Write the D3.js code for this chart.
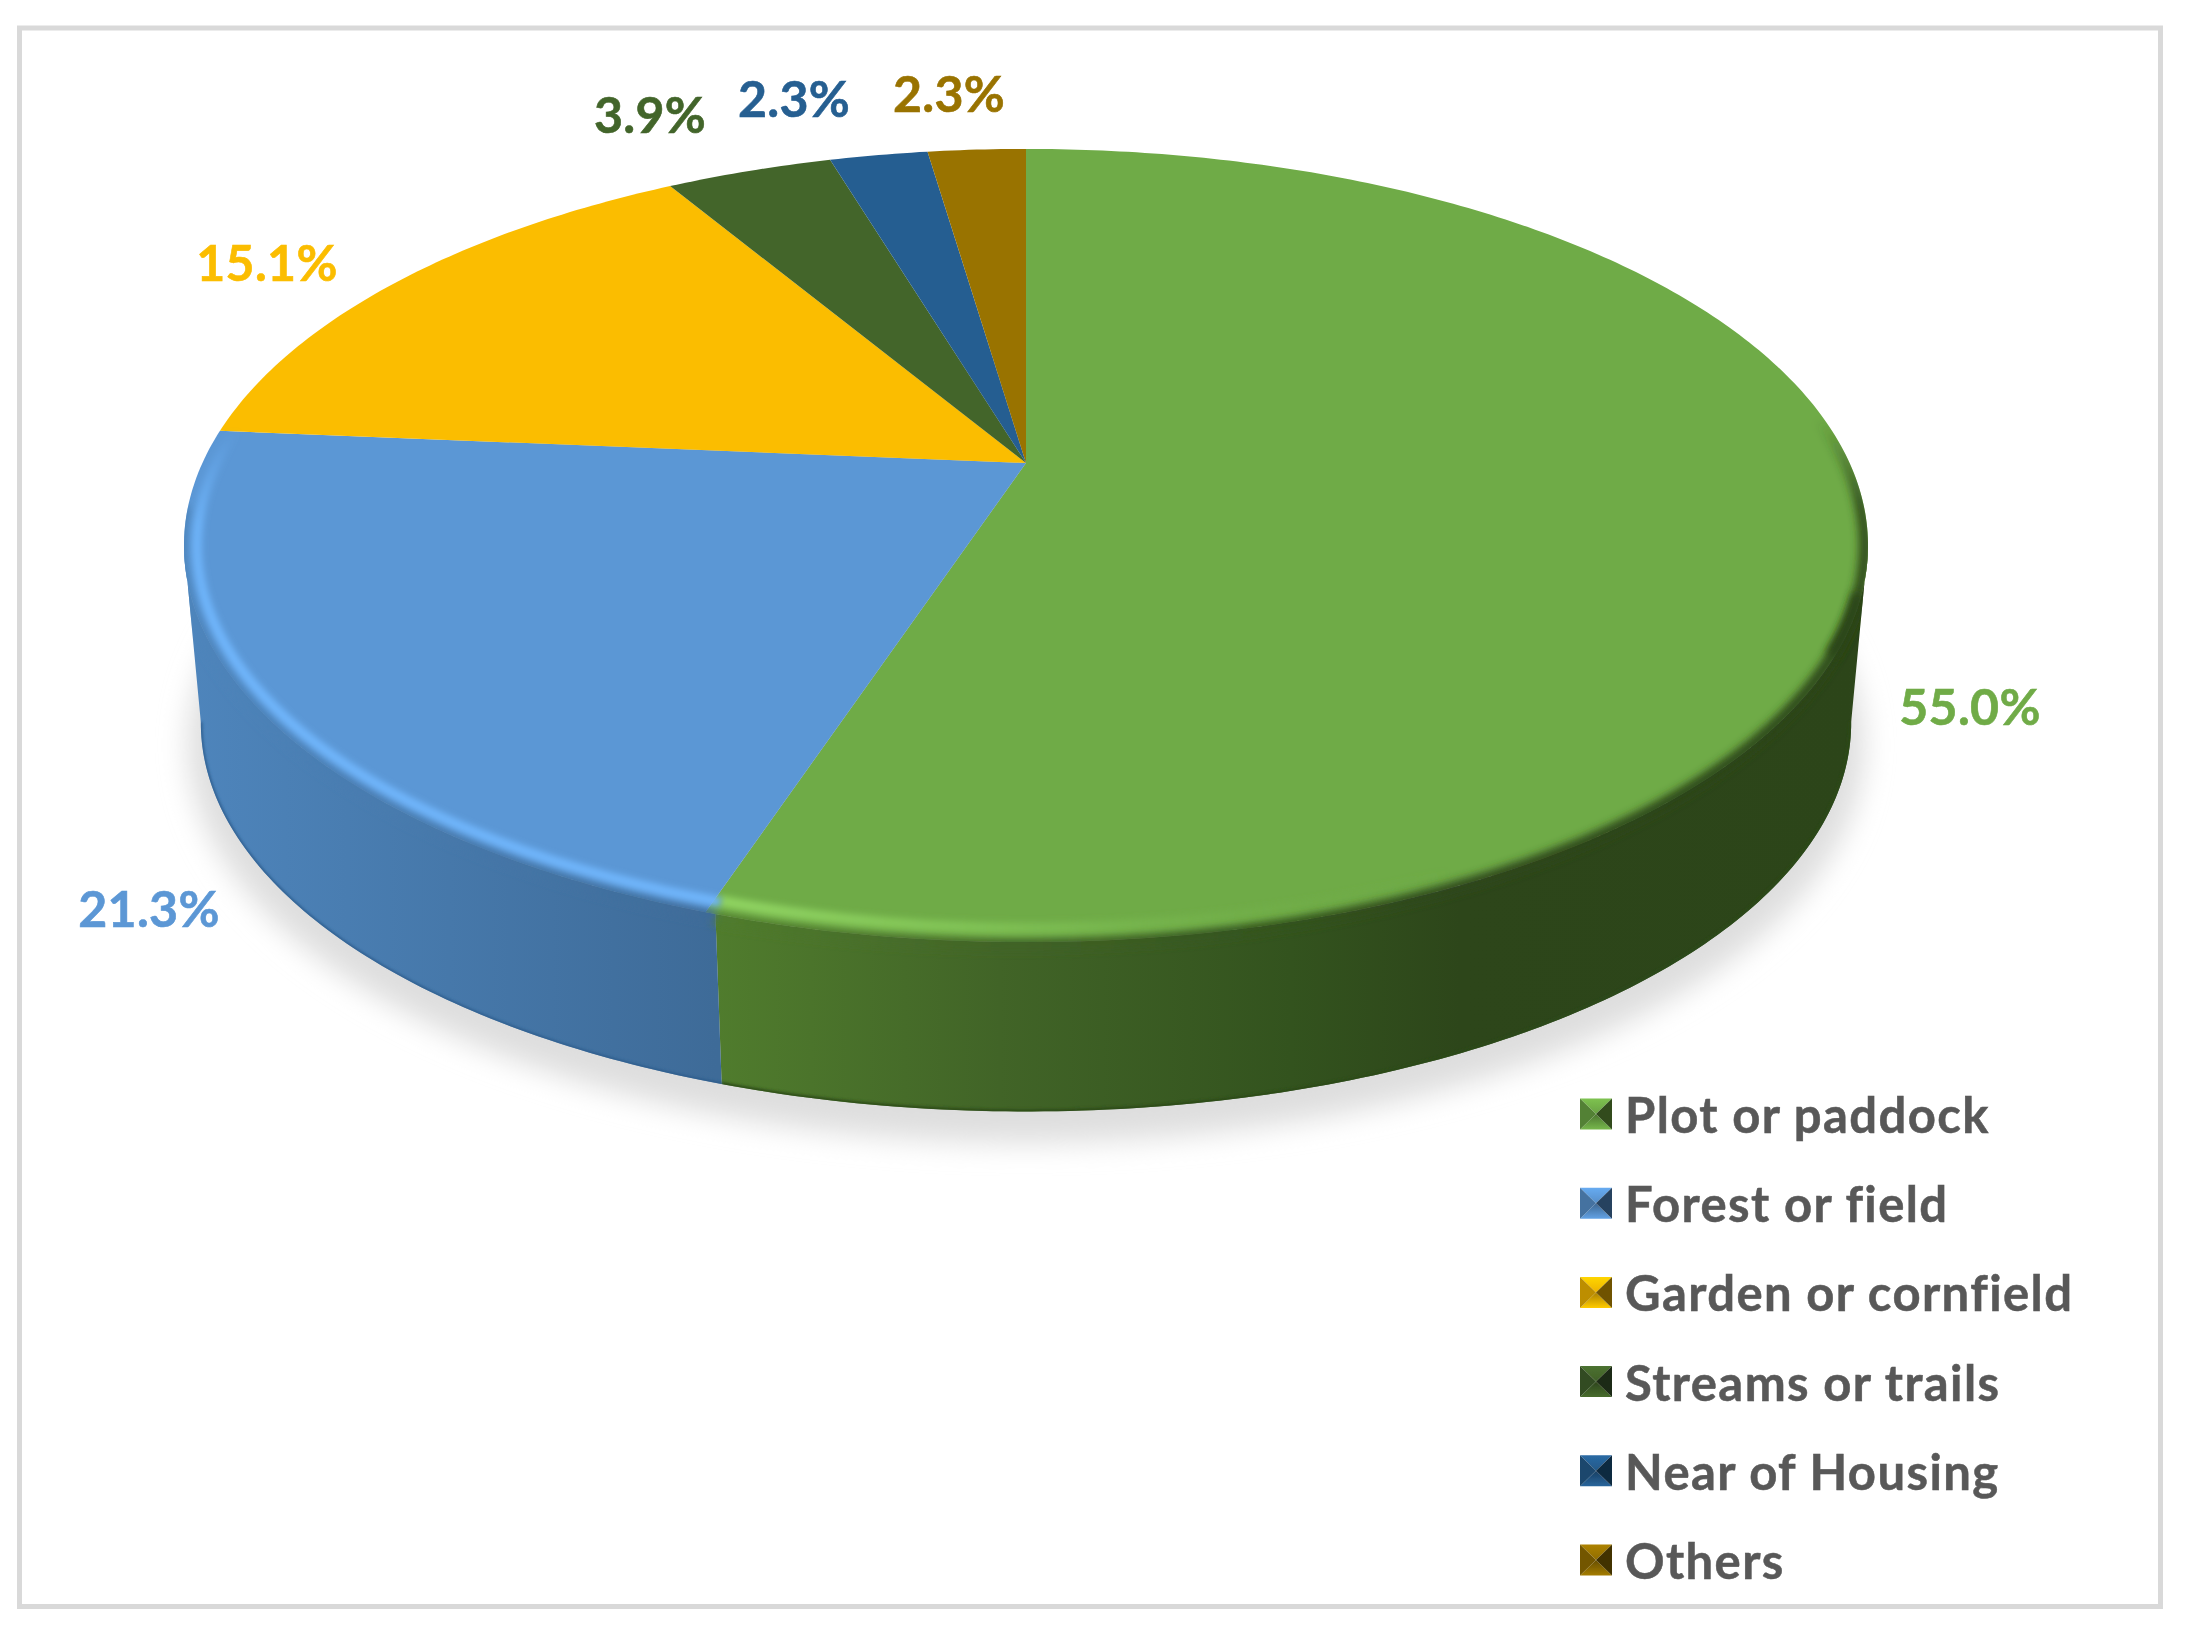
<!DOCTYPE html>
<html>
<head>
<meta charset="utf-8">
<style>
html, body { margin: 0; padding: 0; background: #fff; }
text { font-family: Lato, "Open Sans", sans-serif; font-weight: 700; }
</style>
<script src="https://cdn.jsdelivr.net/npm/d3@7"></script>
</head>
<body>
<script>
var categories = ['Plot or paddock', 'Forest or field', 'Garden or cornfield', 'Streams or trails', 'Near of Housing', 'Others'];
var shares = [55.0, 21.3, 15.1, 3.9, 2.3, 2.3];
var colors = ['#6fab47', '#5b97d5', '#fbbd00', '#43652a', '#255e91', '#997300'];

// where the percent labels sit, centre of text
var labelX = [1970, 149, 267, 650, 794, 949];
var labelY = [706, 908, 262, 114, 98, 93];

var W = 2188, H = 1637;
var cx = 1026, apexY = 463;      // pie centre as seen in perspective
var k = 0.208, a = 379.4, b = 823.6;
var ellipseY = 545, ellipseRx = 842, ellipseRy = 396;
var bottomScale = 0.98, bottomY = 642;
var sideFrom = 101.9 * Math.PI / 180, sideTo = 258.1 * Math.PI / 180;
var seamShift = 0.0105;          // wall seam sits a little right of the slice edge

var svg = d3.select('body').append('svg').attr('width', W).attr('height', H).style('display', 'block');
var defs = svg.append('defs');

// circle -> tilted disc, t is clockwise from the top
function topPt(t, inset) {
    var u = Math.sin(t), v = -Math.cos(t), d = 1 - k * v;
    var x = cx + b * u / d, y = apexY + a * v / d;
    if (inset) {
        x = cx + (x - cx) * (1 - inset / ellipseRx);
        y = ellipseY + (y - ellipseY) * (1 - inset / ellipseRy);
    }
    return [x, y];
}
function bottomPt(t) {
    var u = Math.sin(t), v = -Math.cos(t), d = 1 - k * v;
    return [cx + bottomScale * b * u / d, bottomY + bottomScale * a * v / d];
}
function angles(t0, t1) {
    var n = Math.max(2, Math.ceil(Math.abs(t1 - t0) * 80));
    return d3.range(n + 1).map(function (i) { return t0 + (t1 - t0) * i / n; });
}
var line = d3.line();

var slices = d3.pie().sort(null).value(function (d) { return d; })(shares);
var color = d3.scaleOrdinal().domain(categories).range(colors);
var seam = slices[0].endAngle - seamShift;

function addBlur(id, s) {
    defs.append('filter').attr('id', id).attr('filterUnits', 'userSpaceOnUse')
        .attr('x', 0).attr('y', 0).attr('width', W).attr('height', H)
        .append('feGaussianBlur').attr('stdDeviation', s);
}
addBlur('shadowBlur', 14);
addBlur('rimBlur', 4.5);
addBlur('softBlur', 3);
addBlur('edgeBlur', 1.5);
addBlur('textBlur', 0.6);

function gradient(id, x1, y1, x2, y2, stops) {
    var g = defs.append('linearGradient').attr('id', id).attr('gradientUnits', 'userSpaceOnUse')
        .attr('x1', x1).attr('y1', y1).attr('x2', x2).attr('y2', y2);
    stops.forEach(function (s) {
        g.append('stop').attr('offset', s[0]).attr('stop-color', s[1]).attr('stop-opacity', s[2] === undefined ? 1 : s[2]);
    });
}
gradient('side0', 716, 0, 1867, 0, [[0, '#507c2d'], [0.247, '#416427'], [0.499, '#33531e'], [0.647, '#2d461a'], [1, '#2c4519']]);
gradient('side1', 183, 0, 716, 0, [[0, '#4e85bc'], [1, '#3e6b98']]);
gradient('rimGreen', 716, 0, 1450, 0, [[0, '#90d462'], [0.35, '#80c255'], [0.7, '#74b24b', 0.6], [1, '#6fab47', 0]]);
gradient('rimBlue', 0, 430, 0, 620, [[0, '#6fb5fb', 0], [0.5, '#6fb5fb', 0.9], [1, '#6fb5fb']]);
gradient('rimDark', 0, 420, 0, 640, [[0, '#2c4519', 0], [0.4, '#2c4519', 0.9], [1, '#2c4519', 1]]);

// shadow under the disc
svg.append('ellipse').attr('cx', cx).attr('cy', 745).attr('rx', 838).attr('ry', 398)
    .attr('fill', '#dedede').attr('filter', 'url(#shadowBlur)');

// outer shape, rim effects stay inside it
var outline = angles(0, 2 * Math.PI).map(function (t) { return topPt(t); });
var lowerEdge = angles(sideTo, sideFrom).map(bottomPt);
var clip = defs.append('clipPath').attr('id', 'disc');
clip.append('path').attr('d', line(outline) + 'Z');
clip.append('path').attr('d', line(angles(sideFrom, sideTo).map(function (t) { return topPt(t); }).concat(lowerEdge)) + 'Z');

// side walls
svg.append('g').selectAll('path')
    .data(slices.filter(function (d) { return d.startAngle < sideTo && d.endAngle > sideFrom; }))
    .join('path')
    .attr('fill', function (d, i) { return 'url(#side' + i + ')'; })
    .attr('d', function (d, i) {
        var t0 = i === 0 ? sideFrom : seam;
        var t1 = i === 0 ? seam : sideTo;
        return line(angles(t0, t1).map(function (t) { return topPt(t); }).concat(angles(t1, t0).map(bottomPt))) + 'Z';
    });

// top faces
svg.append('g').selectAll('path').data(slices).join('path')
    .attr('fill', function (d, i) { return color(categories[i]); })
    .attr('d', function (d) {
        var pts = [[cx, apexY]].concat(angles(d.startAngle, d.endAngle).map(function (t) { return topPt(t); }));
        return line(pts) + 'Z';
    });

var rim = svg.append('g').attr('clip-path', 'url(#disc)');

// dark lower lip of the wall
rim.append('path').attr('d', line(angles(sideFrom, seam).map(bottomPt))).attr('fill', 'none')
    .attr('stroke', '#2a4a18').attr('stroke-width', 4).attr('filter', 'url(#edgeBlur)');
rim.append('path').attr('d', line(angles(seam, sideTo).map(bottomPt))).attr('fill', 'none')
    .attr('stroke', '#2a5a8a').attr('stroke-width', 3).attr('filter', 'url(#edgeBlur)');

// top face melts into the wall: right side, then front
rim.append('path').attr('d', line(angles(1.05, 2.05).map(function (t) { return topPt(t, 3); }))).attr('fill', 'none')
    .attr('stroke', 'url(#rimDark)').attr('stroke-width', 12).attr('filter', 'url(#rimBlur)');
rim.append('path').attr('d', line(angles(1.9, seam).map(function (t) { return topPt(t, 3 - 7 * (t - 1.9) / (seam - 1.9)); }))).attr('fill', 'none')
    .attr('stroke', 'url(#side0)').attr('stroke-width', 12).attr('filter', 'url(#rimBlur)');
rim.append('path').attr('d', line(angles(seam, 4.6).map(function (t) { return topPt(t, -2); }))).attr('fill', 'none')
    .attr('stroke', 'url(#side1)').attr('stroke-width', 12).attr('filter', 'url(#rimBlur)');

// lit bevel along the front
rim.append('path').attr('d', line(angles(1.9, seam).map(function (t) { return topPt(t, 14); }))).attr('fill', 'none')
    .attr('stroke', 'url(#rimGreen)').attr('stroke-width', 11).attr('filter', 'url(#softBlur)');
rim.append('path').attr('d', line(angles(seam, 4.95).map(function (t) { return topPt(t, 13); }))).attr('fill', 'none')
    .attr('stroke', 'url(#rimBlue)').attr('stroke-width', 10).attr('filter', 'url(#softBlur)');

// percent labels
svg.append('g').attr('filter', 'url(#textBlur)').selectAll('text').data(shares).join('text')
    .attr('x', function (d, i) { return labelX[i]; })
    .attr('y', function (d, i) { return labelY[i]; })
    .attr('text-anchor', 'middle').attr('dominant-baseline', 'central')
    .attr('font-size', 50).attr('letter-spacing', 0.3)
    .attr('fill', function (d, i) { return color(categories[i]); })
    .attr('stroke', function (d, i) { return color(categories[i]); }).attr('stroke-width', 0.6)
    .text(function (d) { return d.toFixed(1) + '%'; });

// legend
var legendY = d3.scalePoint().domain(categories).range([1114, 1560]);
var legend = svg.append('g').attr('filter', 'url(#textBlur)').selectAll('g').data(categories).join('g')
    .attr('transform', function (d) { return 'translate(1580,' + legendY(d) + ')'; });
var s = 32, h = 15.5;
categories.forEach(function (c, i) {
    var base = d3.color(color(c));
    var gt = defs.append('linearGradient').attr('id', 'mkTop' + i).attr('x1', 0).attr('y1', 0).attr('x2', 0).attr('y2', 1);
    gt.append('stop').attr('offset', 0).attr('stop-color', base.brighter(0.35));
    gt.append('stop').attr('offset', 1).attr('stop-color', base.darker(0.15));
    var gb = defs.append('linearGradient').attr('id', 'mkBot' + i).attr('x1', 0).attr('y1', 0).attr('x2', 0).attr('y2', 1);
    gb.append('stop').attr('offset', 0).attr('stop-color', base.darker(1.1));
    gb.append('stop').attr('offset', 1).attr('stop-color', base.brighter(0.2));
});
var facets = [
    { pts: [[0, -h], [s, -h], [s / 2, 0]], fill: function (d, i) { return 'url(#mkTop' + i + ')'; } },
    { pts: [[0, h], [s, h], [s / 2, 0]], fill: function (d, i) { return 'url(#mkBot' + i + ')'; } },
    { pts: [[0, -h], [0, h], [s / 2, 0]], fill: function (d) { return d3.color(color(d)).darker(0.8); } },
    { pts: [[s, -h], [s, h], [s / 2, 0]], fill: function (d) { return d3.color(color(d)).darker(2.3); } }
];
facets.forEach(function (f) {
    legend.append('path').attr('d', line(f.pts) + 'Z').attr('fill', f.fill);
});
legend.append('text').attr('x', 45).attr('dominant-baseline', 'central').attr('font-size', 49)
    .attr('letter-spacing', 1.4).attr('fill', '#595959').attr('stroke', '#595959').attr('stroke-width', 0.5)
    .text(function (d) { return d; });

// frame
svg.append('rect').attr('x', 19.5).attr('y', 28).attr('width', 2141).attr('height', 1578.5)
    .attr('fill', 'none').attr('stroke', '#d9d9d9').attr('stroke-width', 5);
</script>
</body>
</html>
